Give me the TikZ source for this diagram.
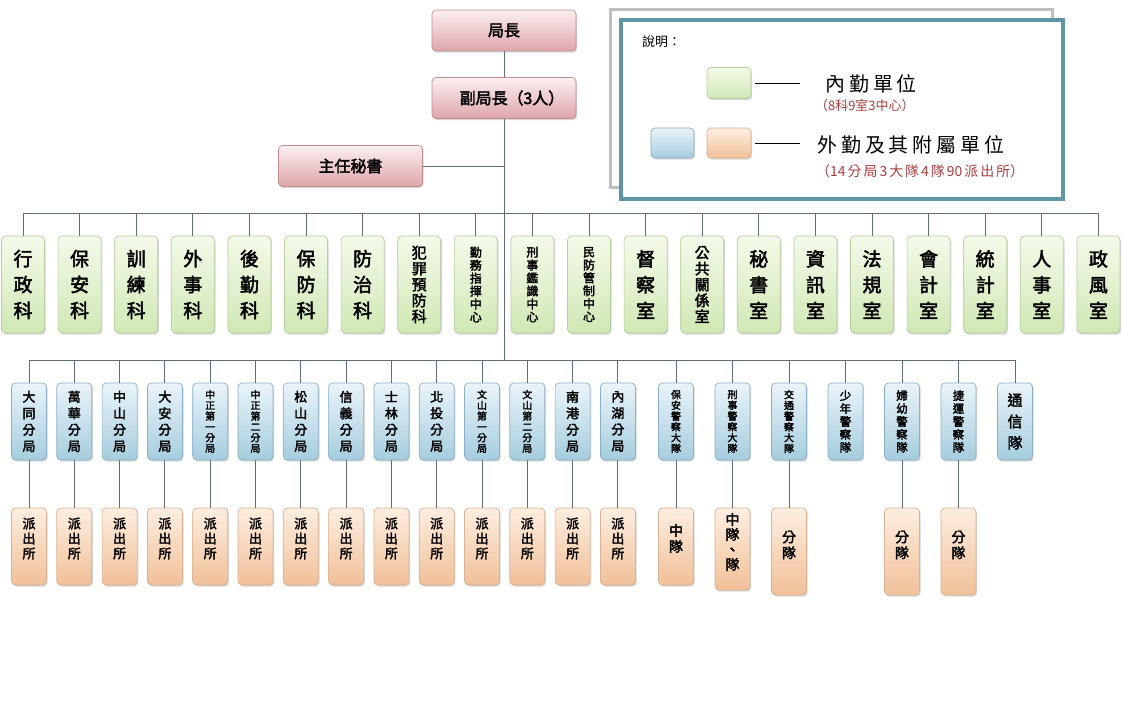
\documentclass[tikz,border=0pt]{standalone}
\usepackage{fontspec}
\newfontfamily\cjk{Noto Sans CJK TC}[FakeBold=2.5]
\newfontfamily\cjkl{Noto Sans CJK TC}
\usetikzlibrary{shadows}
\definecolor{pinkT}{RGB}{252,240,240}
\definecolor{pinkB}{RGB}{222,165,170}
\definecolor{pinkD}{RGB}{195,140,145}
\definecolor{greenT}{RGB}{244,250,234}
\definecolor{greenB}{RGB}{208,232,180}
\definecolor{greenD}{RGB}{182,205,158}
\definecolor{blueT}{RGB}{234,244,249}
\definecolor{blueB}{RGB}{165,205,222}
\definecolor{blueD}{RGB}{140,175,195}
\definecolor{orT}{RGB}{253,238,224}
\definecolor{orB}{RGB}{241,192,152}
\definecolor{orD}{RGB}{215,178,148}
\definecolor{lineC}{RGB}{95,110,120}
\definecolor{legTeal}{RGB}{95,150,165}
\definecolor{legGray}{RGB}{190,190,190}
\definecolor{redT}{RGB}{170,62,62}
\tikzset{
  conn/.style={draw=lineC, line width=0.9bp},
  unit/.style={rounded corners=4bp, line width=0.7bp, inner sep=0pt, align=center,
    drop shadow={shadow xshift=1.2bp, shadow yshift=-1.6bp, opacity=0.3}},
  pinkbox/.style={unit, top color=pinkT, bottom color=pinkB, draw=pinkD,
    minimum width=144bp, minimum height=41bp, font=\cjk\fontsize{16}{18}\selectfont},
  gbox/.style={unit, top color=greenT, bottom color=greenB, draw=greenD,
    minimum width=43bp, minimum height=97bp},
  bbox/.style={unit, top color=blueT, bottom color=blueB, draw=blueD,
    minimum width=35bp, minimum height=77bp},
  obox/.style={unit, top color=orT, bottom color=orB, draw=orD,
    minimum width=35bp, minimum height=77bp},
  gthree/.style={font=\cjk\fontsize{19}{26}\selectfont},
  gfive/.style={font=\cjk\fontsize{15}{16}\selectfont},
  gsix/.style={font=\cjk\fontsize{12}{13}\selectfont},
  bthree/.style={font=\cjk\fontsize{15}{21.5}\selectfont},
  bfour/.style={font=\cjk\fontsize{13}{16.5}\selectfont},
  bfive/.style={font=\cjk\fontsize{11.5}{13}\selectfont},
  bsix/.style={font=\cjk\fontsize{10}{10.8}\selectfont},
  otext/.style={inner sep=0pt, align=center, font=\cjk\fontsize{13}{15}\selectfont},
  otextb/.style={inner sep=0pt, align=center, font=\cjk\fontsize{14}{16}\selectfont},
}
\begin{document}
\begin{tikzpicture}[x=1bp,y=-1bp]
\fill[white] (0,0) rectangle (1123,703);
\useasboundingbox (0,0) rectangle (1123,703);

% legend frames
\draw[legGray, line width=3bp] (610,10) rectangle (1052,188);
\draw[legTeal, line width=3.5bp, fill=white] (621,20) rectangle (1063,199);
\node[anchor=west, inner sep=0pt, font=\cjkl\fontsize{13}{15}\selectfont] (lgtitle) at (642,42) {說明：};
\node[unit, top color=greenT, bottom color=greenB, draw=greenD, minimum width=44bp, minimum height=31bp] (lgG) at (729,83) {};
\node[unit, top color=blueT, bottom color=blueB, draw=blueD, minimum width=43bp, minimum height=30bp] (lgB) at (672.5,143) {};
\node[unit, top color=orT, bottom color=orB, draw=orD, minimum width=44bp, minimum height=30bp] (lgO) at (729,143) {};
\coordinate (lgGe) at ([xshift=49bp]lgG.east);
\coordinate (lgOe) at ([xshift=49bp]lgO.east);
\draw[black, line width=0.8bp] ([xshift=4bp]lgG.east) -- (lgGe);
\draw[black, line width=0.8bp] ([xshift=4bp]lgO.east) -- (lgOe);
\node[anchor=west, inner sep=0pt, font=\cjkl\fontsize{20}{22}\selectfont] (lgt1) at (825,84)
  {內\hspace{4bp}勤\hspace{4bp}單\hspace{4bp}位};
\node[anchor=west, inner sep=0pt, text=redT, font=\cjkl\fontsize{13}{15}\selectfont] (lgt1b) at (815,106)
  {（8科9室3中心）};
\node[anchor=west, inner sep=0pt, font=\cjkl\fontsize{20}{22}\selectfont] (lgt2) at (817,145)
  {外\hspace{4bp}勤\hspace{4bp}及\hspace{4bp}其\hspace{4bp}附\hspace{4bp}屬\hspace{4bp}單\hspace{4bp}位};
\node[anchor=west, inner sep=0pt, text=redT, font=\cjkl\fontsize{14}{16}\selectfont] (lgt2b) at (816,171)
  {（14\hspace{2bp}分\hspace{2bp}局\hspace{2bp}3\hspace{2bp}大\hspace{2bp}隊\hspace{2bp}4\hspace{2bp}隊\hspace{2bp}90\hspace{2bp}派\hspace{2bp}出\hspace{2bp}所）};

% top chain
\node[pinkbox] (chief) at (504,30.5) {局長};
\node[pinkbox] (vp) at (504,98) {\hspace{16bp}副局長（3人）};
\node[pinkbox] (ms) at (350.5,166) {主任秘書};
\draw[conn] (chief.south) -- (vp.north);
\coordinate (bbus) at (504,360);
\coordinate (gbus) at (504,213);
\draw[conn] (vp.south) -- (bbus);
\draw[conn] (ms.east) -- (ms.east -| vp.south);

% green row
\foreach \i/\x/\lab/\st in {
  1/23/{行\\政\\科}/gthree, 2/79.6/{保\\安\\科}/gthree, 3/136.2/{訓\\練\\科}/gthree,
  4/192.8/{外\\事\\科}/gthree, 5/249.4/{後\\勤\\科}/gthree, 6/306/{保\\防\\科}/gthree,
  7/362.6/{防\\治\\科}/gthree, 8/419.2/{犯\\罪\\預\\防\\科}/gfive,
  9/475.8/{勤\\務\\指\\揮\\中\\心}/gsix, 10/532.4/{刑\\事\\鑑\\識\\中\\心}/gsix,
  11/589/{民\\防\\管\\制\\中\\心}/gsix, 12/645.6/{督\\察\\室}/gthree,
  13/702.2/{公\\共\\關\\係\\室}/gfive, 14/758.8/{秘\\書\\室}/gthree,
  15/815.4/{資\\訊\\室}/gthree, 16/872/{法\\規\\室}/gthree, 17/928.6/{會\\計\\室}/gthree,
  18/985.2/{統\\計\\室}/gthree, 19/1041.8/{人\\事\\室}/gthree, 20/1098.4/{政\\風\\室}/gthree} {
  \node[gbox,\st] (g\i) at (\x,284.5) {\lab};
  \draw[conn] (g\i.north) -- (g\i.north |- gbus);
}
\draw[conn] (g1.north |- gbus) -- (g20.north |- gbus);

% blue row with police stations
\foreach \i/\x/\lab/\st in {
  1/29/{大\\同\\分\\局}/bfour, 2/74.3/{萬\\華\\分\\局}/bfour, 3/119.6/{中\\山\\分\\局}/bfour,
  4/164.9/{大\\安\\分\\局}/bfour, 5/210.2/{中\\正\\第\\一\\分\\局}/bsix,
  6/255.5/{中\\正\\第\\二\\分\\局}/bsix, 7/300.8/{松\\山\\分\\局}/bfour,
  8/346.1/{信\\義\\分\\局}/bfour, 9/391.4/{士\\林\\分\\局}/bfour,
  10/436.7/{北\\投\\分\\局}/bfour, 11/482/{文\\山\\第\\一\\分\\局}/bsix,
  12/527.3/{文\\山\\第\\二\\分\\局}/bsix, 13/572.6/{南\\港\\分\\局}/bfour,
  14/617.9/{內\\湖\\分\\局}/bfour} {
  \node[bbox,\st] (b\i) at (\x,421.5) {\lab};
  \draw[conn] (b\i.north) -- (b\i.north |- bbus);
  \node[obox] (o\i) at (\x,546.5) {};
  \node[otext] (ot\i) at ([yshift=8bp]o\i.center) {派\\出\\所};
  \draw[conn] (b\i.south) -- (o\i.north);
}
\foreach \i/\x/\lab/\st in {
  15/676/{保\\安\\警\\察\\大\\隊}/bsix, 16/732.5/{刑\\事\\警\\察\\大\\隊}/bsix,
  17/789/{交\\通\\警\\察\\大\\隊}/bsix, 18/845.5/{少\\年\\警\\察\\隊}/bfive,
  19/902/{婦\\幼\\警\\察\\隊}/bfive, 20/958.5/{捷\\運\\警\\察\\隊}/bfive,
  21/1015/{通\\信\\隊}/bthree} {
  \node[bbox,\st] (b\i) at (\x,421.5) {\lab};
  \draw[conn] (b\i.north) -- (b\i.north |- bbus);
}
\draw[conn] (b1.north |- bbus) -- (b21.north |- bbus);

% special sub-units
\node[obox] (o15) at (676,546.5) {};
\node[otextb] (ot15) at (676,538.5) {中\\隊};
\node[obox, minimum height=82bp] (o16) at (732.5,549) {};
\node[otextb, font=\cjk\fontsize{14}{15}\selectfont] (ot16) at (732.5,542) {中\\隊\\、\\隊};
\node[obox, minimum height=87bp] (o17) at (789,551.5) {};
\node[otextb] (ot17) at (789,545) {分\\隊};
\node[obox, minimum height=87bp] (o19) at (902,551.5) {};
\node[otextb] (ot19) at (902,545) {分\\隊};
\node[obox, minimum height=87bp] (o20) at (958.5,551.5) {};
\node[otextb] (ot20) at (958.5,545) {分\\隊};
\foreach \i in {15,16,17,19,20} {
  \draw[conn] (b\i.south) -- (o\i.north);
}
\end{tikzpicture}
\end{document}
